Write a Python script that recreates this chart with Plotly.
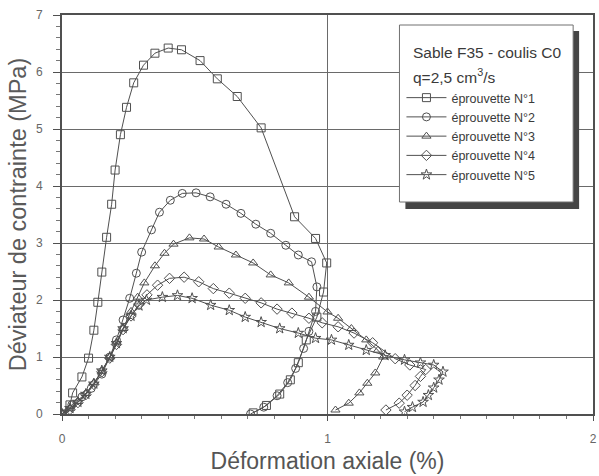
import plotly.graph_objects as go

# ---- data ----
names = ["éprouvette N°1", "éprouvette N°2", "éprouvette N°3", "éprouvette N°4", "éprouvette N°5"]
symbols = ["square-open", "circle-open", "triangle-up-open", "diamond-open", "star-open"]

x1 = [0.0, 0.03, 0.04, 0.075, 0.1, 0.12, 0.135, 0.15, 0.168, 0.187, 0.2, 0.22, 0.243, 0.27, 0.307,
      0.35, 0.4, 0.45, 0.52, 0.585, 0.66, 0.75, 0.876, 0.955, 0.997, 0.985, 0.96, 0.92, 0.89, 0.86,
      0.82, 0.77, 0.72]
y1 = [0.0, 0.16, 0.37, 0.65, 0.98, 1.47, 1.96, 2.49, 3.1, 3.68, 4.28, 4.9, 5.38, 5.81, 6.12,
      6.33, 6.42, 6.39, 6.2, 5.88, 5.57, 5.02, 3.46, 3.08, 2.65, 2.14, 1.7, 1.3, 0.9, 0.6,
      0.35, 0.15, 0.02]

x2 = [0.0, 0.037, 0.075, 0.11, 0.15, 0.18, 0.205, 0.23, 0.255, 0.28, 0.30, 0.337, 0.367, 0.408,
      0.453, 0.505, 0.558, 0.618, 0.674, 0.73, 0.786, 0.843, 0.89, 0.94, 0.96, 0.955, 0.93, 0.91,
      0.88, 0.85, 0.81, 0.76, 0.71]
y2 = [0.0, 0.16, 0.3, 0.45, 0.7, 1.0, 1.3, 1.65, 2.03, 2.47, 2.84, 3.23, 3.54, 3.75,
      3.87, 3.88, 3.81, 3.68, 3.52, 3.33, 3.17, 2.96, 2.79, 2.67, 2.23, 1.8, 1.45, 1.15,
      0.8, 0.55, 0.32, 0.12, 0.0]

x3 = [0.0, 0.03, 0.06, 0.09, 0.12, 0.15, 0.18, 0.205, 0.23, 0.26, 0.285, 0.31, 0.35, 0.386, 0.42,
      0.48, 0.535, 0.59, 0.655, 0.72, 0.786, 0.854, 0.93, 1.0, 1.04, 1.09, 1.146, 1.19, 1.21,
      1.18, 1.15, 1.12, 1.08, 1.03]
y3 = [0.0, 0.1, 0.22, 0.36, 0.55, 0.75, 1.0, 1.25, 1.5, 1.8, 2.05, 2.3, 2.6, 2.82, 2.98,
      3.09, 3.07, 2.93, 2.79, 2.65, 2.44, 2.3, 2.05, 1.79, 1.68, 1.5, 1.3, 1.12, 1.0,
      0.72, 0.54, 0.37, 0.19, 0.07]

x4 = [0.0, 0.03, 0.06, 0.09, 0.12, 0.15, 0.18, 0.205, 0.23, 0.26, 0.29, 0.32, 0.36, 0.405, 0.46,
      0.515, 0.57, 0.63, 0.69, 0.75, 0.81, 0.866, 0.93, 0.98, 1.04, 1.1, 1.17, 1.255, 1.31, 1.37,
      1.35, 1.33, 1.3, 1.27, 1.22]
y4 = [0.0, 0.08, 0.2, 0.34, 0.52, 0.74, 0.98, 1.22, 1.48, 1.72, 1.92, 2.09, 2.26, 2.38, 2.4,
      2.32, 2.2, 2.12, 2.03, 1.95, 1.84, 1.77, 1.68, 1.6, 1.53, 1.42, 1.25, 0.97, 0.86, 0.78,
      0.66, 0.5, 0.33, 0.19, 0.07]

x5 = [0.0, 0.03, 0.06, 0.09, 0.12, 0.15, 0.18, 0.205, 0.23, 0.26, 0.29, 0.318, 0.378, 0.435, 0.49,
      0.56, 0.63, 0.69, 0.75, 0.82, 0.89, 0.955, 1.015, 1.08, 1.146, 1.217, 1.29, 1.35, 1.40, 1.435,
      1.42, 1.40, 1.38, 1.36, 1.32, 1.29]
y5 = [0.0, 0.1, 0.21, 0.35, 0.53, 0.76, 1.0, 1.24, 1.5, 1.72, 1.9, 2.0, 2.05, 2.08, 2.03,
      1.91, 1.82, 1.7, 1.61, 1.5, 1.42, 1.33, 1.3, 1.21, 1.12, 1.03, 0.95, 0.9, 0.86, 0.74,
      0.6, 0.46, 0.33, 0.21, 0.12, 0.04]

xs = [x1, x2, x3, x4, x5]
ys = [y1, y2, y3, y4, y5]

legend_title_lines = ["Sable F35 - coulis C0", "q=2,5 cm<sup>3</sup>/s"]
x_title = "Déformation axiale (%)"
y_title = "Déviateur de contrainte (MPa)"

FONT = "Liberation Sans, Arial, sans-serif"
INK = "#505050"

# plot-area geometry in pixels (for placing the legend box decoration)
L, R, T, B = 62, 597, 15, 414
def px(xp):
    return (xp - L) / (R - L)
def py(yp):
    return (B - yp) / (B - T)

fig = go.Figure()
for x, y, n, s in zip(xs, ys, names, symbols):
    fig.add_trace(go.Scatter(
        x=x, y=y, name=n, mode="lines+markers",
        line=dict(color=INK, width=1),
        marker=dict(symbol=s, size=8, color=INK, line=dict(width=1, color=INK)),
    ))

# legend frame with drop shadow
fig.add_shape(type="rect", xref="paper", yref="paper",
              x0=px(408), x1=px(583), y0=py(209), y1=py(31),
              fillcolor="#454545", line=dict(width=0), layer="above")
fig.add_shape(type="rect", xref="paper", yref="paper",
              x0=px(402), x1=px(577), y0=py(202), y1=py(25),
              fillcolor="white", line=dict(width=1, color="#707070"), layer="above")

for i, t in enumerate(legend_title_lines):
    fig.add_annotation(text=t, xref="paper", yref="paper",
                       x=px(414), y=py(52 + 24 * i), xanchor="left", yanchor="middle",
                       showarrow=False, font=dict(size=15.5, color="#3a3a3a"))

fig.update_layout(
    width=599, height=476,
    margin=dict(l=L, r=599 - R, t=T, b=476 - B),
    paper_bgcolor="white", plot_bgcolor="white",
    font=dict(family=FONT, color="#555555", size=12),
    showlegend=True,
    legend=dict(
        x=px(404), y=py(83), xanchor="left", yanchor="top",
        bgcolor="rgba(0,0,0,0)", borderwidth=0,
        font=dict(size=12.5, color="#3a3a3a"),
        itemwidth=40, tracegroupgap=0,
    ),
    xaxis=dict(
        range=[0, 2], dtick=1, tick0=0,
        showgrid=True, gridcolor="#6a6a6a", gridwidth=1,
        showline=True, linecolor="#505050", linewidth=2, mirror=True,
        ticks="outside", ticklen=5, tickcolor="#505050",
        minor=dict(dtick=0.1, ticks="outside", ticklen=3, tickcolor="#777777", showgrid=False),
        zeroline=False, ticklabelstandoff=8,
        tickfont=dict(size=12, color="#666666"),
        title=dict(text=x_title, font=dict(size=23, color="#555555"), standoff=7),
    ),
    yaxis=dict(
        range=[0, 7], dtick=1, tick0=0,
        showgrid=True, gridcolor="#6a6a6a", gridwidth=1,
        showline=True, linecolor="#505050", linewidth=2, mirror=True,
        ticks="outside", ticklen=7, tickcolor="#505050",
        minor=dict(dtick=0.2, ticks="outside", ticklen=4, tickcolor="#777777", showgrid=False),
        zeroline=False, ticklabelstandoff=8,
        tickfont=dict(size=12, color="#666666"),
        title=dict(text=y_title, font=dict(size=23.5, color="#5a5a5a"), standoff=3),
    ),
)

fig.write_html("out.html")
